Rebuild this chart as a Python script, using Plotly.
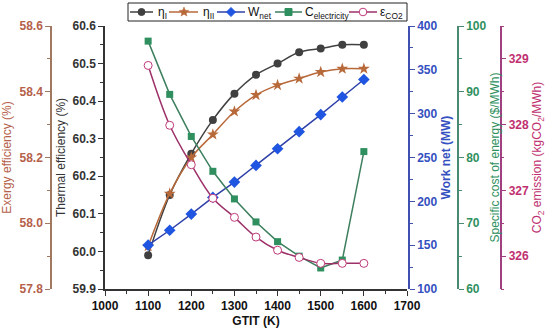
import math
import plotly.graph_objects as go

gtit = [1100, 1150, 1200, 1250, 1300, 1350, 1400, 1450, 1500, 1550, 1600]
eta_I = [59.99, 60.15, 60.26, 60.35, 60.42, 60.47, 60.50, 60.53, 60.54, 60.55, 60.55]
eta_II = [57.93, 58.09, 58.20, 58.27, 58.34, 58.39, 58.42, 58.44, 58.46, 58.47, 58.47]
w_net = [150, 167, 185.5, 204.5, 222, 241, 260, 279.5, 299, 319, 339]
c_elec = [97.7, 89.6, 83.2, 77.9, 73.7, 70.2, 67.2, 65.0, 63.2, 64.4, 80.9]
eps_co2 = [328.9, 327.99, 327.39, 326.88, 326.59, 326.29, 326.09, 325.98, 325.89, 325.89, 325.89]

series_names = ["η<sub>I</sub>", "η<sub>II</sub>", "W<sub>net</sub>",
                "C<sub>electricity</sub>", "ε<sub>CO2</sub>"]

FONT = "Liberation Sans, Arial, sans-serif"
W, H = 550, 332
ML, MR, MT, MB = 5, 5, 26, 43
PW, PH = W - ML - MR, H - MT - MB

def px(xp):
    return (xp - ML) / PW

def py(yp):
    return (H - MB - yp) / PH

C_BLACK = "#404040"
C_BROWN = "#b8693a"
C_BLUE_L, C_BLUE_M = "#2f40a8", "#1f55e0"
C_GREEN_L, C_GREEN_M = "#3d7f5e", "#2f8f5f"
C_MAG_L, C_MAG_M = "#9c3068", "#c03a7a"

fig = go.Figure()
fig.add_trace(go.Scatter(x=gtit, y=eta_I, name=series_names[0], yaxis="y",
                         mode="lines+markers", line=dict(color=C_BLACK, width=1.5, shape="spline"),
                         marker=dict(symbol="circle", size=8, color=C_BLACK)))
fig.add_trace(go.Scatter(x=gtit, y=eta_II, name=series_names[1], yaxis="y2",
                         mode="lines+markers", line=dict(color=C_BROWN, width=1.5, shape="spline"),
                         marker=dict(symbol="star", size=9, color=C_BROWN)))
fig.add_trace(go.Scatter(x=gtit, y=w_net, name=series_names[2], yaxis="y3",
                         mode="lines+markers", line=dict(color=C_BLUE_L, width=1.5),
                         marker=dict(symbol="diamond", size=9, color=C_BLUE_M)))
fig.add_trace(go.Scatter(x=gtit, y=c_elec, name=series_names[3], yaxis="y4",
                         mode="lines+markers", line=dict(color=C_GREEN_L, width=1.5),
                         marker=dict(symbol="square", size=7, color=C_GREEN_M)))
fig.add_trace(go.Scatter(x=gtit, y=eps_co2, name=series_names[4], yaxis="y5",
                         mode="lines+markers", line=dict(color=C_MAG_L, width=1.5, shape="spline"),
                         marker=dict(symbol="circle", size=8, color="white",
                                     line=dict(color=C_MAG_M, width=1))))

def yax(color, lab_color, title, rng, dtick, mdtick, side, standoff=4, **kw):
    d = dict(range=rng, dtick=dtick, side=side, showgrid=False, zeroline=False,
             showline=True, linecolor=color, linewidth=1.5, automargin=False,
             ticks="outside", ticklen=5, tickcolor=color, tickwidth=1.2,
             tickfont=dict(family=FONT, size=12, color=lab_color, weight="bold"),
             title=dict(text=title, font=dict(family=FONT, size=12, color=lab_color), standoff=standoff),
             minor=dict(dtick=mdtick, ticks="outside", ticklen=3, tickcolor=color))
    d.update(kw)
    return d

# ---- custom compact legend (layout decorations) ----
shapes, annotations = [], []
LY = 12  # legend row centre (px)
shapes.append(dict(type="rect", xref="paper", yref="paper", x0=px(128), x1=px(407),
                   y0=py(21), y1=py(3), line=dict(color="#222", width=1), fillcolor="white",
                   layer="above"))

def seg(x0, x1, color):
    shapes.append(dict(type="line", xref="paper", yref="paper", x0=px(x0), x1=px(x1),
                       y0=py(LY), y1=py(LY), line=dict(color=color, width=1.5), layer="above"))

def poly(points, fill, line_color, lw=1):
    path = "M " + " L ".join(f"{px(a):.5f},{py(b):.5f}" for a, b in points) + " Z"
    shapes.append(dict(type="path", xref="paper", yref="paper", path=path,
                       fillcolor=fill, line=dict(color=line_color, width=lw), layer="above"))

def circle(cx, r, fill, line_color, lw=1):
    shapes.append(dict(type="circle", xref="paper", yref="paper",
                       x0=px(cx - r), x1=px(cx + r), y0=py(LY + r), y1=py(LY - r),
                       fillcolor=fill, line=dict(color=line_color, width=lw), layer="above"))

def star(cx, r):
    pts = []
    for i in range(10):
        ang = -math.pi / 2 + i * math.pi / 5
        rr = r if i % 2 == 0 else r * 0.45
        pts.append((cx + rr * math.cos(ang), LY + rr * math.sin(ang)))
    poly(pts, C_BROWN, C_BROWN, 0.5)

def label(x, text):
    annotations.append(dict(xref="paper", yref="paper", x=px(x), y=py(LY + 1), text=text,
                            showarrow=False, xanchor="left", yanchor="middle",
                            font=dict(family=FONT, size=12, color="#111")))

# entry 1: eta_I
seg(130, 153, C_BLACK); circle(141.5, 3.5, C_BLACK, C_BLACK)
label(156, series_names[0])
# entry 2: eta_II
seg(169, 198, C_BROWN); star(184, 5)
label(201, series_names[1])
# entry 3: W_net
seg(217, 245, C_BLUE_L); poly([(231, LY - 4.5), (235.5, LY), (231, LY + 4.5), (226.5, LY)], C_BLUE_M, C_BLUE_M)
label(246, series_names[2])
# entry 4: C_electricity
seg(275, 302, C_GREEN_L); poly([(285, LY - 3.5), (292, LY - 3.5), (292, LY + 3.5), (285, LY + 3.5)], C_GREEN_M, C_GREEN_M)
label(303, series_names[3])
# entry 5: eps_CO2
seg(349, 377, C_MAG_L); circle(363, 3.8, "white", C_MAG_M)
label(378, series_names[4])

fig.update_layout(
    width=W, height=H,
    margin=dict(l=ML, r=MR, t=MT, b=MB, autoexpand=False),
    paper_bgcolor="white", plot_bgcolor="rgba(0,0,0,0)",
    font=dict(family=FONT, size=12, color="#222"),
    showlegend=False,
    xaxis=dict(domain=[px(105), px(407)], range=[1000, 1700], dtick=100, automargin=False,
               showgrid=False, zeroline=False, showline=True, linecolor="#333", linewidth=1.5,
               ticks="outside", ticklen=5, tickcolor="#333",
               minor=dict(dtick=50, ticks="outside", ticklen=3, tickcolor="#333"),
               tickfont=dict(family=FONT, size=12, color="#111", weight="bold"),
               title=dict(text="GTIT (K)", font=dict(family=FONT, size=12, color="#111", weight="bold"),
                          standoff=4)),
    yaxis=yax("#333", "#333", "Thermal efficiency (%)", [59.9, 60.6], 0.1, 0.05, "left",
              anchor="x", tickformat=".1f"),
    yaxis2=yax("#a07860", "#b5604a", "Exergy efficiency (%)", [57.8, 58.6], 0.2, 0.1, "left",
               anchor="free", overlaying="y", position=px(51), tickformat=".1f"),
    yaxis3=yax("#4050b0", "#3550c0", "<b>Work net (MW)</b>", [100, 400], 50, 25, "right",
               anchor="free", overlaying="y", position=px(409)),
    yaxis4=yax("#4a8a70", "#2f9060", "Specific cost of energy ($/MWh)", [60, 100], 10, 5, "right",
               anchor="free", overlaying="y", position=px(458)),
    yaxis5=yax("#a04080", "#c03070", "CO<sub>2</sub> emission (kgCO<sub>2</sub>/MWh)", [325.5, 329.5], 1, 0.5, "right",
               anchor="free", overlaying="y", position=px(500.5)),
    shapes=shapes,
    annotations=annotations,
)

fig.write_html("out.html", config={"displayModeBar": False},
               post_script="document.body.style.margin='0px';document.body.style.overflow='hidden';")
